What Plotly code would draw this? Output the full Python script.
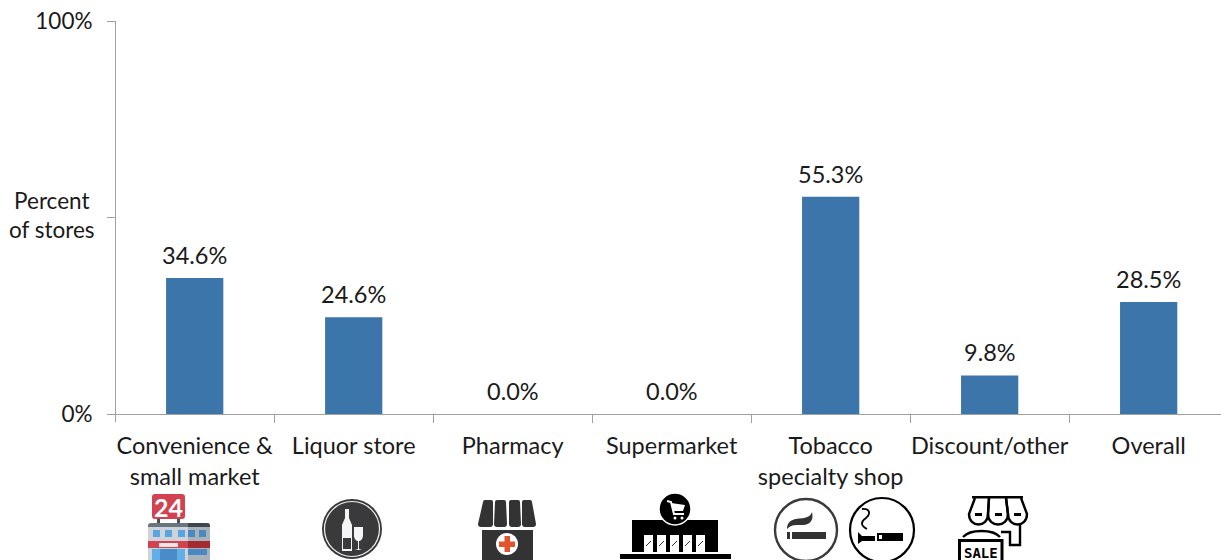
import plotly.graph_objects as go

categories = ["Convenience &<br>small market", "Liquor store", "Pharmacy", "Supermarket",
              "Tobacco<br>specialty shop", "Discount/other", "Overall"]
percent_of_stores = [34.6, 24.6, 0.0, 0.0, 55.3, 9.8, 28.5]
y_ticks = [0, 50, 100]
y_tick_labels = ["0%", "", "100%"]

W, H = 1221, 560
LEFT, TOP, BOTTOM = 116, 21, 146
FONT = "Lato, Carlito, Calibri, sans-serif"
TEXT = "#1a1a1a"
AXIS = "#a0a0a0"
BAR = "#3b75a9"

plot_w, plot_h = W - LEFT, H - TOP - BOTTOM


def px(x):
    return (x - LEFT) / plot_w


def py(y):
    return (H - BOTTOM - y) / plot_h


shapes = []


def rect(x0, y0, x1, y1, fill):
    shapes.append(dict(type="rect", xref="paper", yref="paper", x0=px(x0), x1=px(x1),
                       y0=py(y1), y1=py(y0), fillcolor=fill, line_width=0, layer="above"))


def circle(cx, cy, r, fill="rgba(0,0,0,0)", stroke=None, width=0):
    shapes.append(dict(type="circle", xref="paper", yref="paper", x0=px(cx - r), x1=px(cx + r),
                       y0=py(cy + r), y1=py(cy - r), fillcolor=fill,
                       line=dict(color=stroke or "rgba(0,0,0,0)", width=width), layer="above"))


def path(points, fill="rgba(0,0,0,0)", stroke=None, width=0, closed=True):
    """Polyline or curve from (command, x, y...) tuples given in page pixels."""
    parts = []
    for p in points:
        cmd, nums = p[0], p[1:]
        coords = [f"{px(nums[i]):.5f},{py(nums[i + 1]):.5f}" for i in range(0, len(nums), 2)]
        parts.append(cmd + " " + " ".join(coords))
    d = " ".join(parts) + (" Z" if closed else "")
    shapes.append(dict(type="path", xref="paper", yref="paper", path=d, fillcolor=fill,
                       line=dict(color=stroke or "rgba(0,0,0,0)", width=width), layer="above"))


def poly(coords, fill):
    path([("M", *coords[0])] + [("L", *c) for c in coords[1:]], fill=fill)


def rounded(x0, y0, x1, y1, r, fill):
    path([("M", x0 + r, y0), ("L", x1 - r, y0), ("Q", x1, y0, x1, y0 + r), ("L", x1, y1 - r),
          ("Q", x1, y1, x1 - r, y1), ("L", x0 + r, y1), ("Q", x0, y1, x0, y1 - r),
          ("L", x0, y0 + r), ("Q", x0, y0, x0 + r, y0)], fill=fill)


# Outermost category boundary tick under the value axis
rect(115, 414, 116, 422, AXIS)

# Convenience store icon
rect(157, 517, 160, 524, "#4a4f55")
rect(177, 517, 180, 524, "#4a4f55")
rounded(152, 494, 185, 519, 3, "#d2434f")
rounded(148, 523, 210, 564, 3, "#cdd3d8")
path([("M", 188, 523), ("L", 207, 523), ("Q", 210, 523, 210, 526), ("L", 210, 560), ("L", 188, 560)], fill="#aab2b9")
path([("M", 148, 527), ("L", 148, 526), ("Q", 148, 523, 151, 523), ("L", 188, 523), ("L", 188, 527)], fill="#6b757d")
path([("M", 188, 523), ("L", 207, 523), ("Q", 210, 523, 210, 526), ("L", 210, 527), ("L", 188, 527)], fill="#3f464c")
for wx in (153, 165, 178):
    rect(wx, 530, wx + 7, 537, "#5aa5e0")
for wx in (188, 199):
    rect(wx, 530, wx + 7, 537, "#4a88c2")
rect(148, 541, 188, 548, "#d2434f")
rect(188, 541, 210, 548, "#a52a30")
rect(159, 543, 178, 547, "#f4e4e4")
rect(152, 549, 185, 560, "#62aee8")
rect(160, 549, 177, 560, "#4a8cc8")
rect(188, 549, 207, 555, "#4a88c2")

# Liquor store icon
circle(352, 529, 30, fill="#3a3a3c")
circle(352, 529, 27.5, stroke="#f2f2f2", width=1.2)
poly([(345, 509), (349, 509), (349, 518), (352, 525), (352, 551), (342, 551), (342, 525), (345, 518)], "#f5f5f5")
rect(343, 538, 351, 549, "#3a3a3c")
path([("M", 354, 527), ("L", 363, 527), ("L", 363, 535), ("C", 363, 540, 360, 541, 359, 541),
      ("L", 359, 549), ("L", 362, 550), ("L", 355, 550), ("L", 358, 549), ("L", 358, 541),
      ("C", 357, 541, 354, 540, 354, 535)], fill="#f5f5f5")

# Pharmacy icon with rounded awning slats
SLAT = "#333333"
for top_l, top_r, bot_l, bot_r in [(483, 493, 478, 493), (495, 506, 494, 507), (509, 520, 509, 521), (522, 532, 522, 536)]:
    path([("M", top_l + 2, 500), ("L", top_r - 2, 500), ("Q", top_r, 500, top_r, 502), ("L", bot_r, 524),
          ("Q", bot_r, 527, bot_r - 3, 527), ("L", bot_l + 3, 527), ("Q", bot_l, 527, bot_l, 524),
          ("L", top_l, 502), ("Q", top_l, 500, top_l + 2, 500)], fill=SLAT)
rect(482, 530, 533, 560, SLAT)
circle(507, 544, 11, fill="#ffffff")
rect(504.5, 536, 510, 552, "#e2522b")
rect(499, 541.5, 515, 547, "#e2522b")

# Supermarket icon
rect(632, 520, 718, 552, "#000000")
rect(620, 554, 731, 559, "#000000")
circle(675, 509, 16, fill="#000000", stroke="#ffffff", width=1.5)
for dx in (644, 657, 670, 683, 696):
    rect(dx, 535, dx + 9, 552, "#ffffff")
    path([("M", dx + 2, 546), ("L", dx + 7, 541)], stroke="#333333", width=1, closed=False)
path([("M", 667, 501), ("L", 671, 502), ("L", 674, 514), ("L", 684, 514)], stroke="#ffffff", width=2, closed=False)
poly([(671, 503), (685, 505), (683, 511), (673, 511)], "#ffffff")
circle(675, 518, 1.5, fill="#ffffff")
circle(682, 518, 1.5, fill="#ffffff")

# Cigarette icon
circle(806, 530, 31, stroke="#3a3a3a", width=2.4)
rect(787, 532, 790, 539, "#333333")
rect(792, 532, 826, 539, "#333333")
path([("M", 787, 529), ("C", 787, 518, 798, 519, 804, 518), ("C", 809, 517, 811, 515, 812, 512),
      ("C", 814, 520, 810, 525, 803, 525), ("C", 797, 525, 791, 524, 787, 529)], fill="#333333")

# E-cigarette icon
circle(882, 530, 32, stroke="#000000", width=2.2)
path([("M", 862, 509), ("C", 870, 508, 871, 514, 866, 518), ("C", 860, 522, 861, 526, 867, 529)],
     stroke="#000000", width=1.8, closed=False)
poly([(858, 532), (862, 536), (875, 536), (875, 541), (862, 541), (858, 544)], "#000000")
rect(877, 533, 903, 541, "#000000")
rect(879, 535, 882, 539, "#ffffff")

# Discount store icon
LW = 2.4
rect(972, 496, 1023, 498.5, "#000000")
for x_top0, x_top1, x0, x1 in [(975, 989, 969, 988), (989, 1006, 988, 1008), (1006, 1021, 1008, 1027)]:
    path([("M", x_top0, 498), ("L", x0, 514), ("C", x0, 528, x1, 528, x1, 514), ("L", x_top1, 498)],
         stroke="#000000", width=LW, closed=False)
for dash_x in (975, 995, 1014):
    rect(dash_x, 513, dash_x + 7, 516, "#000000")
path([("M", 963, 537), ("C", 970, 529, 993, 529, 1000, 537)], stroke="#000000", width=LW, closed=False)
path([("M", 1001, 532), ("L", 1010, 532), ("L", 1010, 545), ("L", 1020, 545), ("L", 1020, 525)],
     stroke="#000000", width=LW, closed=False)
path([("M", 959.5, 562), ("L", 959.5, 540.5), ("L", 1002, 540.5), ("L", 1002, 562)],
     stroke="#000000", width=3, closed=False)

annotations = [
    dict(text="Percent<br>of stores", x=px(52), y=py(215.5), xref="paper", yref="paper",
         showarrow=False, font=dict(family=FONT, size=22.5, color=TEXT), align="center",
         xanchor="center", yanchor="middle"),
    dict(text="<b>24</b>", x=px(168.5), y=py(506.5), xref="paper", yref="paper", showarrow=False,
         font=dict(family=FONT, size=25, color="#ffffff"), xanchor="center", yanchor="middle"),
    dict(text="<b>SALE</b>", x=px(981), y=py(553), xref="paper", yref="paper", showarrow=False,
         font=dict(family="DejaVu Sans Mono, monospace", size=14, color="#000000"),
         xanchor="center", yanchor="middle"),
]

# Value labels sit a fixed distance above each bar
for cat, val in zip(categories, percent_of_stores):
    annotations.append(dict(text=f"{val:.1f}%", x=cat, y=val, xref="x", yref="y", showarrow=False,
                            yanchor="bottom", xanchor="center", yshift=7,
                            font=dict(family=FONT, size=23.5, color=TEXT)))

fig = go.Figure(go.Bar(
    x=categories, y=percent_of_stores, width=0.36, marker=dict(color=BAR, line_width=0),
    cliponaxis=False, hoverinfo="x+y",
))
fig.update_layout(
    width=W, height=H, margin=dict(l=LEFT, r=0, t=TOP, b=BOTTOM, pad=0),
    paper_bgcolor="#ffffff", plot_bgcolor="#ffffff", showlegend=False,
    font=dict(family=FONT, size=23, color=TEXT),
    shapes=shapes, annotations=annotations,
    xaxis=dict(type="category", range=[-0.495, 6.455], tickson="boundaries", ticks="outside", ticklen=8,
               tickcolor=AXIS, tickwidth=1, showline=True, linecolor=AXIS, linewidth=1,
               showgrid=False, zeroline=False, tickangle=0, automargin=False, ticklabelstandoff=11,
               tickfont=dict(family=FONT, size=23.5, color=TEXT)),
    yaxis=dict(range=[0, 100], tickvals=y_ticks, ticktext=y_tick_labels, ticks="outside", ticklen=8,
               tickcolor=AXIS, tickwidth=1, showline=True, linecolor=AXIS, linewidth=1,
               showgrid=False, zeroline=False, automargin=False, ticklabelstandoff=10,
               tickfont=dict(family=FONT, size=22.5, color=TEXT)),
)
fig.write_html("out.html")
